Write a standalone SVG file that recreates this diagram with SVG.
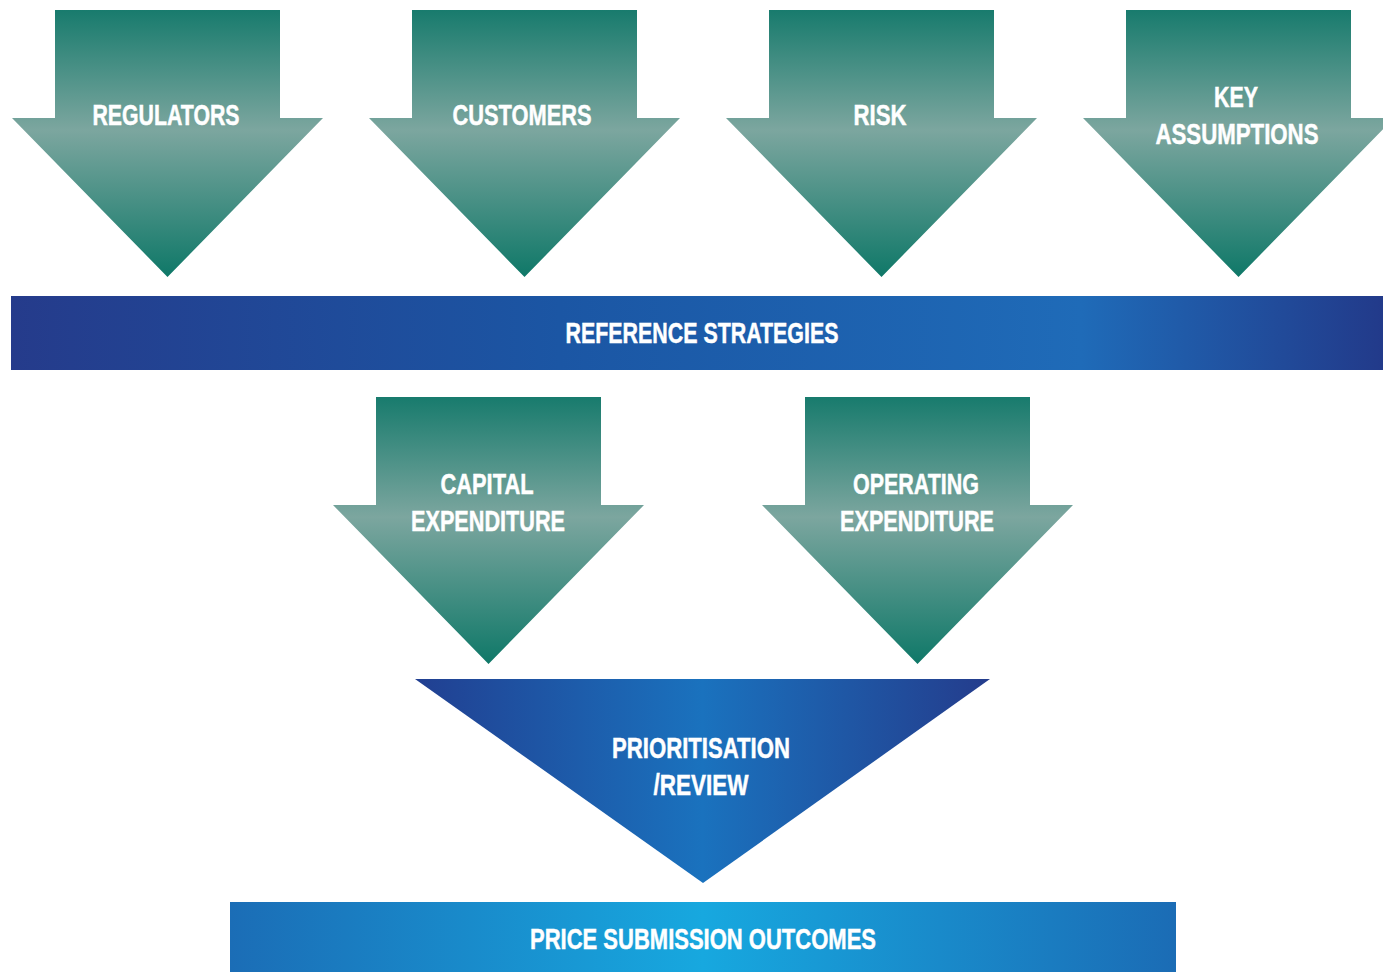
<svg xmlns="http://www.w3.org/2000/svg" width="1383" height="972" viewBox="0 0 1383 972">
<defs>
<linearGradient id="teal" x1="0" y1="0" x2="0" y2="1">
<stop offset="0" stop-color="#187b6d"/>
<stop offset="0.45" stop-color="#7ca69f"/>
<stop offset="1" stop-color="#0f7868"/>
</linearGradient>
<linearGradient id="band" x1="0" y1="0" x2="1" y2="0">
<stop offset="0" stop-color="#253b8b"/>
<stop offset="0.4" stop-color="#1b56a4"/>
<stop offset="0.78" stop-color="#1f6bb8"/>
<stop offset="1" stop-color="#223a8a"/>
</linearGradient>
<linearGradient id="tri" x1="0" y1="0" x2="1" y2="0">
<stop offset="0" stop-color="#213f91"/>
<stop offset="0.5" stop-color="#1a72be"/>
<stop offset="1" stop-color="#243c8c"/>
</linearGradient>
<linearGradient id="out" x1="0" y1="0" x2="1" y2="0">
<stop offset="0" stop-color="#1b6db6"/>
<stop offset="0.5" stop-color="#17a8df"/>
<stop offset="1" stop-color="#1b6cb5"/>
</linearGradient>
</defs>
<style>
.arrow{fill:url(#teal)}
.t{font-family:"Liberation Sans",Arial,sans-serif;font-weight:bold;font-size:30px;fill:#ffffff;stroke:#ffffff;stroke-width:0.5;text-anchor:middle}
</style>
<g id="regulators">
<path class="arrow" d="M55,10 H280 V118 H323 L167.5,277 L12,118 H55 Z"/>
<text class="t" x="166" y="125" textLength="147" lengthAdjust="spacingAndGlyphs">REGULATORS</text>
</g>
<g id="customers">
<path class="arrow" d="M412,10 H637 V118 H680 L524.5,277 L369,118 H412 Z"/>
<text class="t" x="522" y="125" textLength="139" lengthAdjust="spacingAndGlyphs">CUSTOMERS</text>
</g>
<g id="risk">
<path class="arrow" d="M769,10 H994 V118 H1037 L881.5,277 L726,118 H769 Z"/>
<text class="t" x="880" y="125" textLength="53" lengthAdjust="spacingAndGlyphs">RISK</text>
</g>
<g id="key-assumptions">
<path class="arrow" d="M1126,10 H1351 V118 H1394 L1238.5,277 L1083,118 H1126 Z"/>
<text class="t" x="1236" y="107" textLength="44" lengthAdjust="spacingAndGlyphs">KEY</text>
<text class="t" x="1237" y="144" textLength="163" lengthAdjust="spacingAndGlyphs">ASSUMPTIONS</text>
</g>
<g id="reference-strategies">
<rect x="11" y="296" width="1372" height="74" fill="url(#band)"/>
<text class="t" x="702" y="343" textLength="273" lengthAdjust="spacingAndGlyphs">REFERENCE STRATEGIES</text>
</g>
<g id="capital-expenditure">
<path class="arrow" d="M376,397 H601 V505 H644 L488.5,664 L333,505 H376 Z"/>
<text class="t" x="487" y="494" textLength="93" lengthAdjust="spacingAndGlyphs">CAPITAL</text>
<text class="t" x="488" y="531" textLength="154" lengthAdjust="spacingAndGlyphs">EXPENDITURE</text>
</g>
<g id="operating-expenditure">
<path class="arrow" d="M805,397 H1030 V505 H1073 L917.5,664 L762,505 H805 Z"/>
<text class="t" x="916" y="494" textLength="126" lengthAdjust="spacingAndGlyphs">OPERATING</text>
<text class="t" x="917" y="531" textLength="154" lengthAdjust="spacingAndGlyphs">EXPENDITURE</text>
</g>
<g id="prioritisation-review">
<path d="M415,679 H990 L703,883 Z" fill="url(#tri)"/>
<text class="t" x="701" y="758" textLength="178" lengthAdjust="spacingAndGlyphs">PRIORITISATION</text>
<text class="t" x="701" y="795" textLength="95" lengthAdjust="spacingAndGlyphs">/REVIEW</text>
</g>
<g id="price-submission-outcomes">
<rect x="230" y="902" width="946" height="70" fill="url(#out)"/>
<text class="t" x="703" y="949" textLength="346" lengthAdjust="spacingAndGlyphs">PRICE SUBMISSION OUTCOMES</text>
</g>
<g id="connectors"/>
</svg>
